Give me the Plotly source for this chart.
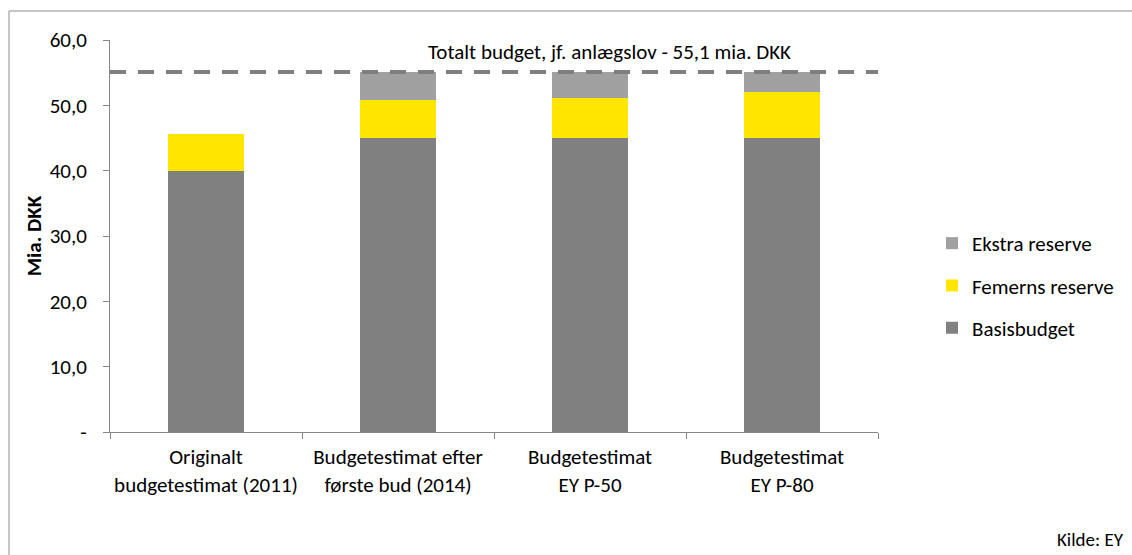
import plotly.graph_objects as go

# Budget components per estimate (mia. DKK)
categories = [
    "Originalt<br>budgetestimat (2011)",
    "Budgetestimat efter<br>første bud (2014)",
    "Budgetestimat<br>EY P-50",
    "Budgetestimat<br>EY P-80",
]
basisbudget = [40.0, 45.0, 45.0, 45.0]
femerns_reserve = [5.6, 5.8, 6.1, 7.1]
ekstra_reserve = [0.0, 4.3, 4.0, 3.0]
total_budget = 55.1

y_tickvals = [0, 10, 20, 30, 40, 50, 60]
y_ticktext = ["-", "10,0", "20,0", "30,0", "40,0", "50,0", "60,0"]

FONT = "Carlito, Calibri, 'Liberation Sans', Arial, sans-serif"
AXIS_GREY = "#868686"
FS = 21

fig = go.Figure()
series = [
    ("Basisbudget", basisbudget, "#808080", 3),
    ("Femerns reserve", femerns_reserve, "#FFE600", 2),
    ("Ekstra reserve", ekstra_reserve, "#A0A0A0", 1),
]
for name, vals, col, rank in series:
    fig.add_trace(go.Bar(
        x=categories, y=vals, name=name, legendgroup=name, legendrank=rank,
        marker=dict(color=col, line=dict(width=0)),
        width=0.4,
    ))

# Total budget reference line across the plot area
fig.add_shape(type="line", xref="paper", yref="y", x0=0, x1=1,
              y0=total_budget, y1=total_budget,
              line=dict(color="#7F7F7F", width=4, dash="16px,12px"))
fig.add_annotation(xref="paper", yref="paper", x=(609 - 110) / 768,
                   y=(432 - 52) / 392,
                   text="Totalt budget, jf. anlægslov - 55,1 mia. DKK",
                   showarrow=False, xanchor="center", yanchor="middle",
                   font=dict(size=FS, color="#000000", family=FONT))

# Outer frame
fig.add_shape(type="rect", xref="paper", yref="paper",
              x0=(9 - 110) / 768, x1=1.4, y0=-0.5, y1=(432 - 11) / 392,
              line=dict(color="#8C8C8C", width=1), fillcolor="rgba(0,0,0,0)",
              layer="below")

fig.add_annotation(xref="paper", yref="paper", x=(1126 - 110) / 768,
                   y=(432 - 539) / 392, text="Kilde: EY", showarrow=False,
                   xanchor="right", yanchor="middle",
                   font=dict(size=19, color="#000000", family=FONT))

fig.update_layout(
    barmode="stack",
    width=1132, height=555,
    margin=dict(l=110, r=254, t=40, b=123),
    paper_bgcolor="white", plot_bgcolor="white",
    font=dict(family=FONT, size=FS, color="#000000"),
    showlegend=True,
    legend=dict(x=(932 - 110) / 768, y=(432 - 223) / 392,
                xanchor="left", yanchor="top",
                traceorder="grouped", tracegroupgap=12,
                itemwidth=30,
                font=dict(size=FS, family=FONT, color="#000000")),
    bargap=0.6,
)
fig.update_xaxes(showline=True, linecolor=AXIS_GREY, linewidth=1,
                 ticks="outside", ticklen=6, tickcolor=AXIS_GREY,
                 tickson="boundaries", showgrid=False, ticklabelstandoff=6,
                 tickangle=0, automargin=False,
                 tickfont=dict(size=FS, family=FONT))
fig.update_yaxes(range=[0, 60], tickvals=y_tickvals, ticktext=y_ticktext,
                 showline=True, linecolor=AXIS_GREY, linewidth=1,
                 ticks="outside", ticklen=6, tickcolor=AXIS_GREY,
                 showgrid=False, zeroline=False, ticklabelstandoff=12,
                 automargin=False,
                 tickfont=dict(size=FS, family=FONT),
                 title=dict(text="<b>Mia. DKK</b>", standoff=2,
                            font=dict(size=FS, family=FONT)))

fig.write_html("out.html")
